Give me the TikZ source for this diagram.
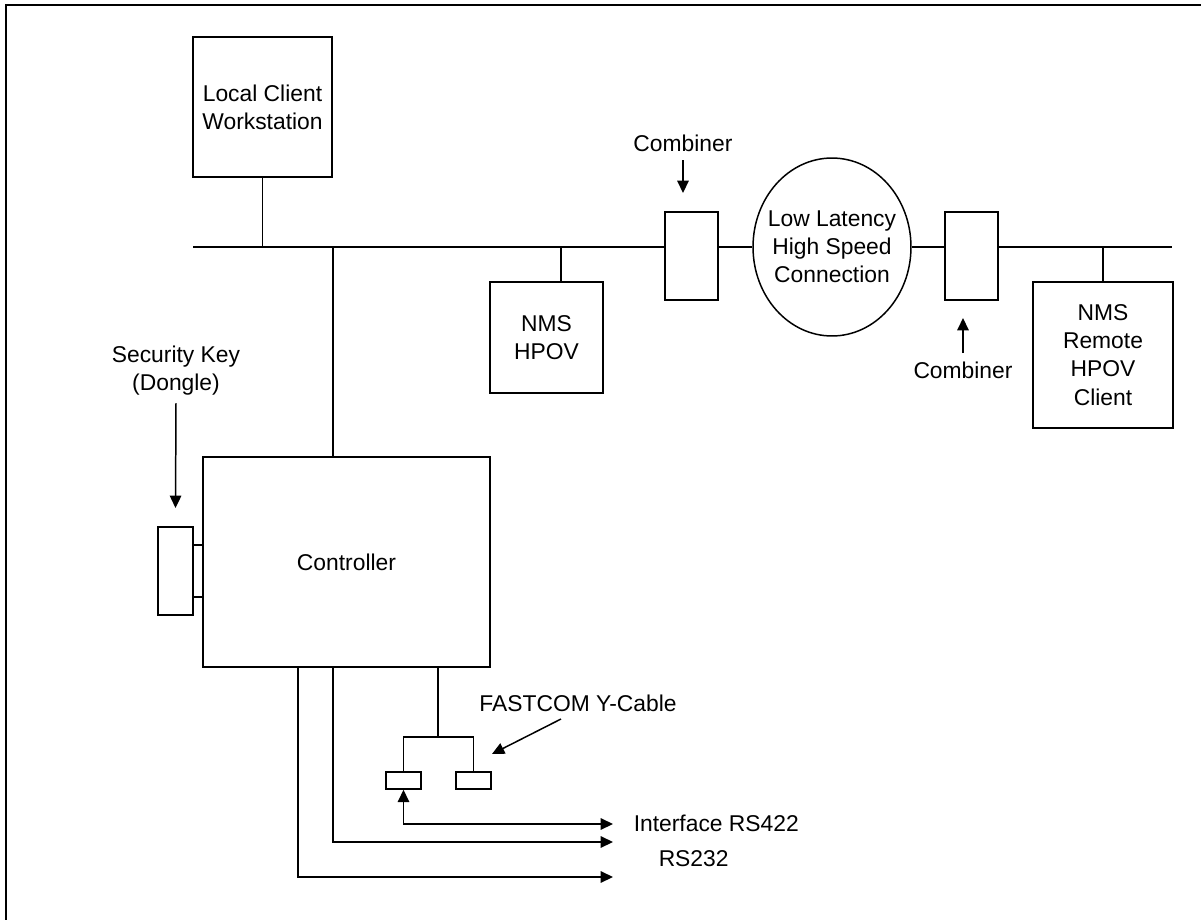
\documentclass[tikz,border=0pt]{standalone}
\usepackage{fontspec}
\setmainfont{Liberation Sans}
\usepackage{tikz}
\usetikzlibrary{shapes.geometric}
\usetikzlibrary{arrows,arrows.meta,positioning,calc}
\tikzstyle{unit}=[draw,rectangle,align=center,fill=white,inner sep=0pt]
\tikzstyle{plug}=[draw,rectangle,fill=white,inner sep=0pt]
\tikzstyle{lbl}=[align=center,inner sep=0pt]
\tikzstyle{arr}=[-{Triangle[length=7pt,width=6.5pt]}]

\begin{document}
\begin{tikzpicture}[x=0.02cm,y=-0.02cm,line width=0.85pt,
    every node/.style={font=\fontsize{13}{16}\selectfont}]
  \useasboundingbox (0,0) rectangle (1201,920);
  \draw[line width=1.6pt] (1201,5) -- (6,5) -- (6,920);

  % network units
  \node[unit,minimum width=2.78cm,minimum height=2.8cm] (lcw) at (262.5,107) {Local Client\\Workstation};
  \node[unit,minimum width=2.26cm,minimum height=2.22cm] (hpov) at (546.5,337.5) {NMS\\HPOV};
  \node[unit,minimum width=2.8cm,minimum height=2.92cm] (remote) at (1103,355) {NMS\\Remote\\HPOV\\Client};
  \node[plug,minimum width=1.06cm,minimum height=1.76cm] (comb1) at (691.5,256) {};
  \node[plug,minimum width=1.06cm,minimum height=1.76cm] (comb2) at (971.5,256) {};
  \node[draw,ellipse,align=center,inner xsep=-6pt,inner ysep=0pt,
    minimum width=3.16cm,minimum height=3.56cm] (link) at (832,247) {Low Latency\\High Speed\\Connection};
  \node[unit,minimum width=5.74cm,minimum height=4.2cm] (ctrl) at (346.5,562) {Controller};
  \node[plug,minimum width=0.7cm,minimum height=1.76cm] (dongle) at (175.5,571) {};
  \node[plug,minimum width=0.7cm,minimum height=0.34cm] (yp1) at (403.5,780.5) {};
  \node[plug,minimum width=0.7cm,minimum height=0.34cm] (yp2) at (473.5,780.5) {};

  % labels
  \node[lbl] (skey) at (176,371) {Security Key\\(Dongle)};
  \node[lbl] (clab1) at (683,143) {Combiner};
  \node[lbl] (clab2) at (963,370) {Combiner};
  \node[lbl] (fast) at (578,703) {FASTCOM Y-Cable};
  \node[lbl,anchor=west] (rs422) at (633,823) {Interface RS422};
  \node[lbl,anchor=west] (rs232) at (658,859) {RS232};

  % bus
  \coordinate (busL) at (193,247);
  \coordinate (busR) at (1172,247);
  \coordinate (tapC) at (333,247);
  \coordinate (tapH) at (561,247);
  \draw (busL) -- (comb1.west |- busL);
  \draw (comb1.east |- busL) -- (link.west);
  \draw (link.east) -- (comb2.west |- busL);
  \draw (comb2.east |- busL) -- (busR);
  \draw (lcw.south) -- (lcw.south |- busL);
  \draw (tapC) -- (tapC |- ctrl.north);
  \draw (tapH) -- (tapH |- hpov.north);
  \draw (remote.north) -- (remote.north |- busR);

  % dongle
  \foreach \y in {545,597}
    \draw (dongle.east |- 0,\y) -- (ctrl.west |- 0,\y);
  \draw[arr] (skey) ++(0,32) -- (dongle.north |- 0,508);

  % combiner arrows
  \draw[arr] (clab1) ++(0,17) -- (clab1 |- 0,193);
  \draw[arr] (clab2) ++(0,-17) -- (clab2 |- 0,318);

  % Y-cable
  \coordinate (yj) at (438,737);
  \coordinate (endA) at (613,824);
  \coordinate (endB) at (613,842);
  \coordinate (endC) at (613,877);
  \draw (ctrl.south -| yj) -- (yj);
  \draw (yp1.north) -- (yp1.north |- yj) -- (yp2.north |- yj) -- (yp2.north);
  \draw[arr] (fast) ++(-17,16) -- (492,754);
  \draw[{Triangle[length=7pt,width=6.5pt]}-{Triangle[length=7pt,width=6.5pt]}]
    (yp1.south) -- (yp1.south |- endA) -- (endA);
  \draw[arr] (ctrl.south -| 333,0) -- (333,842) -- (endB);
  \draw[arr] (ctrl.south -| 298,0) -- (298,877) -- (endC);
\end{tikzpicture}
\end{document}
